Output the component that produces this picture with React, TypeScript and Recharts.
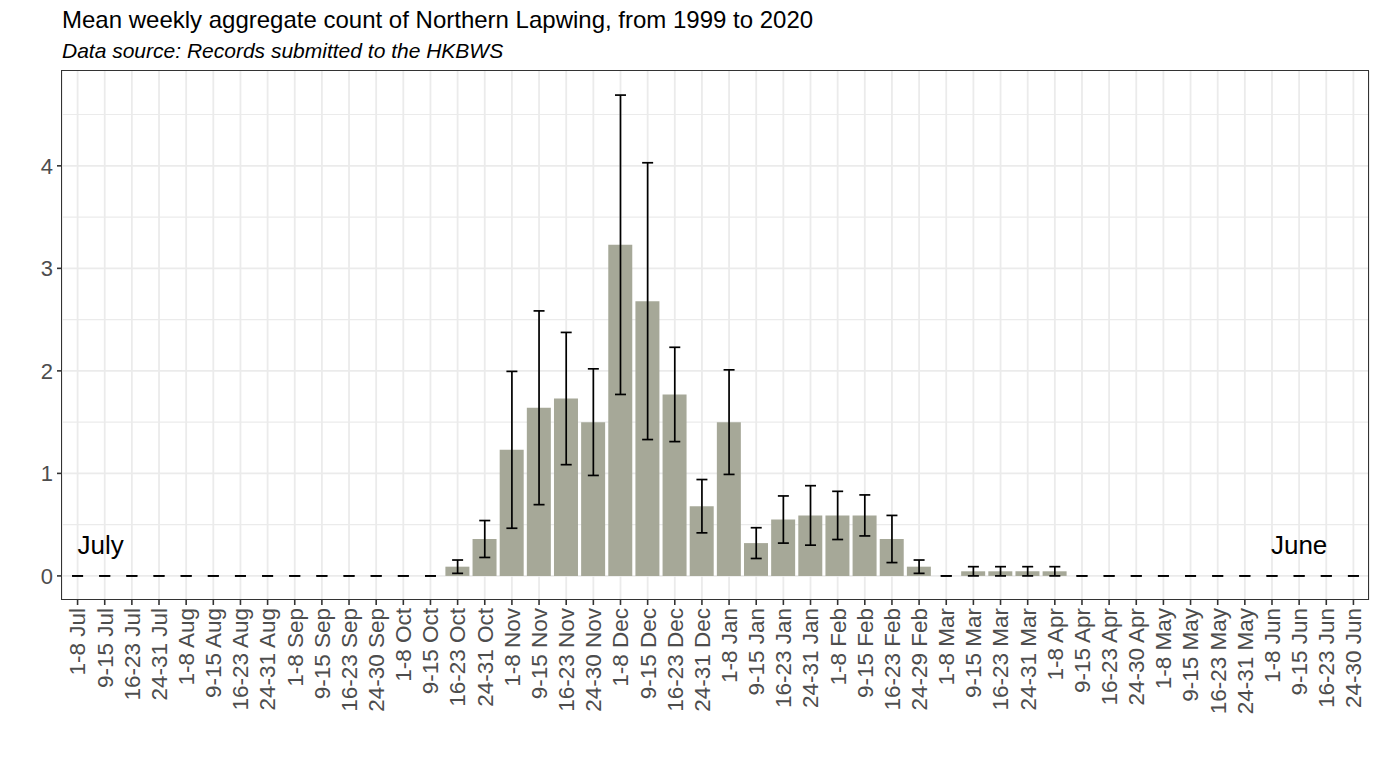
import React from "react";
import {
  ComposedChart,
  Bar,
  Scatter,
  ErrorBar,
  XAxis,
  YAxis,
  CartesianGrid,
  ReferenceDot,
} from "recharts";

const weeks: string[] = [
  "1-8 Jul", "9-15 Jul", "16-23 Jul", "24-31 Jul",
  "1-8 Aug", "9-15 Aug", "16-23 Aug", "24-31 Aug",
  "1-8 Sep", "9-15 Sep", "16-23 Sep", "24-30 Sep",
  "1-8 Oct", "9-15 Oct", "16-23 Oct", "24-31 Oct",
  "1-8 Nov", "9-15 Nov", "16-23 Nov", "24-30 Nov",
  "1-8 Dec", "9-15 Dec", "16-23 Dec", "24-31 Dec",
  "1-8 Jan", "9-15 Jan", "16-23 Jan", "24-31 Jan",
  "1-8 Feb", "9-15 Feb", "16-23 Feb", "24-29 Feb",
  "1-8 Mar", "9-15 Mar", "16-23 Mar", "24-31 Mar",
  "1-8 Apr", "9-15 Apr", "16-23 Apr", "24-30 Apr",
  "1-8 May", "9-15 May", "16-23 May", "24-31 May",
  "1-8 Jun", "9-15 Jun", "16-23 Jun", "24-30 Jun",
];

const meanCount: number[] = [
  0, 0, 0, 0,
  0, 0, 0, 0,
  0, 0, 0, 0,
  0, 0, 0.09, 0.36,
  1.23, 1.64, 1.73, 1.5,
  3.23, 2.68, 1.77, 0.68,
  1.5, 0.32, 0.55, 0.59,
  0.59, 0.59, 0.36, 0.09,
  0, 0.045, 0.045, 0.045,
  0.045, 0, 0, 0,
  0, 0, 0, 0,
  0, 0, 0, 0,
];

const stdErr: number[] = [
  0, 0, 0, 0,
  0, 0, 0, 0,
  0, 0, 0, 0,
  0, 0, 0.065, 0.18,
  0.765, 0.945, 0.645, 0.52,
  1.46, 1.35, 0.46, 0.26,
  0.51, 0.15, 0.23, 0.29,
  0.235, 0.2, 0.23, 0.065,
  0, 0.045, 0.045, 0.045,
  0.045, 0, 0, 0,
  0, 0, 0, 0,
  0, 0, 0, 0,
];

const yTicks: number[] = [0, 1, 2, 3, 4];
const yMajor: number[] = [0, 1, 2, 3, 4];
const yMinor: number[] = [0.5, 1.5, 2.5, 3.5, 4.5];

const data = weeks.map((w, i) => ({
  week: w,
  mean: meanCount[i],
  err: [stdErr[i], stdErr[i]],
}));

const FONT = "'Liberation Sans', Arial, Helvetica, sans-serif";

const XTick = (props: any) => {
  const { x, y, payload } = props;
  return (
    <text
      x={x}
      y={y}
      dy="0.35em"
      transform={`rotate(-90, ${x}, ${y})`}
      textAnchor="end"
      fill="#4D4D4D"
      fontSize={22.5}
      fontFamily={FONT}
    >
      {payload.value}
    </text>
  );
};

const makeLabel = (label: string, anchor: "start" | "middle" | "end") => (props: any) => {
  const { cx, cy } = props;
  return (
    <text
      x={cx}
      y={cy}
      dy="0.35em"
      textAnchor={anchor}
      fill="#000"
      fontSize={26}
      fontFamily={FONT}
    >
      {label}
    </text>
  );
};

const NoPoint = () => <g />;

export default function App() {
  return (
    <div
      style={{
        position: "absolute",
        left: 0,
        top: 0,
        width: 1384,
        height: 757,
        background: "#fff",
        fontFamily: FONT,
      }}
    >
      <div
        style={{
          position: "absolute",
          left: 62,
          top: 5,
          fontSize: 24,
          color: "#000",
          whiteSpace: "nowrap",
          lineHeight: "30px",
        }}
      >
        Mean weekly aggregate count of Northern Lapwing, from 1999 to 2020
      </div>
      <div
        style={{
          position: "absolute",
          left: 62,
          top: 38,
          fontSize: 21,
          fontStyle: "italic",
          color: "#000",
          whiteSpace: "nowrap",
          lineHeight: "26px",
        }}
      >
        Data source: Records submitted to the HKBWS
      </div>
      <div style={{ position: "absolute", left: 0, top: 0 }}>
        <ComposedChart
          width={1384}
          height={757}
          data={data}
          margin={{ top: 71, right: 15, bottom: 17, left: 12 }}
          barCategoryGap="5%"
        >
          <CartesianGrid
            stroke="#EBEBEB"
            strokeWidth={1.1}
            horizontal={true}
            vertical={false}
            horizontalValues={yMinor}
          />
          <CartesianGrid
            stroke="#EBEBEB"
            strokeWidth={1.8}
            horizontalValues={yMajor}
          />
          <XAxis
            dataKey="week"
            type="category"
            interval={0}
            height={140}
            padding={{ left: 2, right: 2 }}
            axisLine={false}
            tickLine={{ stroke: "#333333", strokeWidth: 1.6 }}
            tickSize={5}
            tickMargin={3}
            tick={<XTick />}
          />
          <YAxis
            type="number"
            domain={[-0.235, 4.925]}
            ticks={yTicks}
            width={50}
            axisLine={false}
            tickLine={{ stroke: "#333333", strokeWidth: 1.6 }}
            tickSize={5}
            tickMargin={4}
            tick={{ fill: "#4D4D4D", fontSize: 22, fontFamily: FONT }}
            allowDataOverflow={true}
          />
          <Bar dataKey="mean" fill="#A6A898" isAnimationActive={false} />
          <Scatter dataKey="mean" shape={<NoPoint />} isAnimationActive={false}>
            <ErrorBar
              dataKey="err"
              width={5.5}
              stroke="#000"
              strokeWidth={1.7}
              direction="y"
              isAnimationActive={false}
            />
          </Scatter>
          <ReferenceDot
            x={weeks[0]}
            y={0.3}
            r={0}
            shape={makeLabel("July", "start")}
          />
          <ReferenceDot
            x={weeks[45]}
            y={0.3}
            r={0}
            shape={makeLabel("June", "middle")}
          />
        </ComposedChart>
      </div>
      <div
        style={{
          position: "absolute",
          left: 61,
          top: 70,
          width: 1308,
          height: 530,
          boxSizing: "border-box",
          border: "1.8px solid #333333",
          pointerEvents: "none",
        }}
      />
    </div>
  );
}
